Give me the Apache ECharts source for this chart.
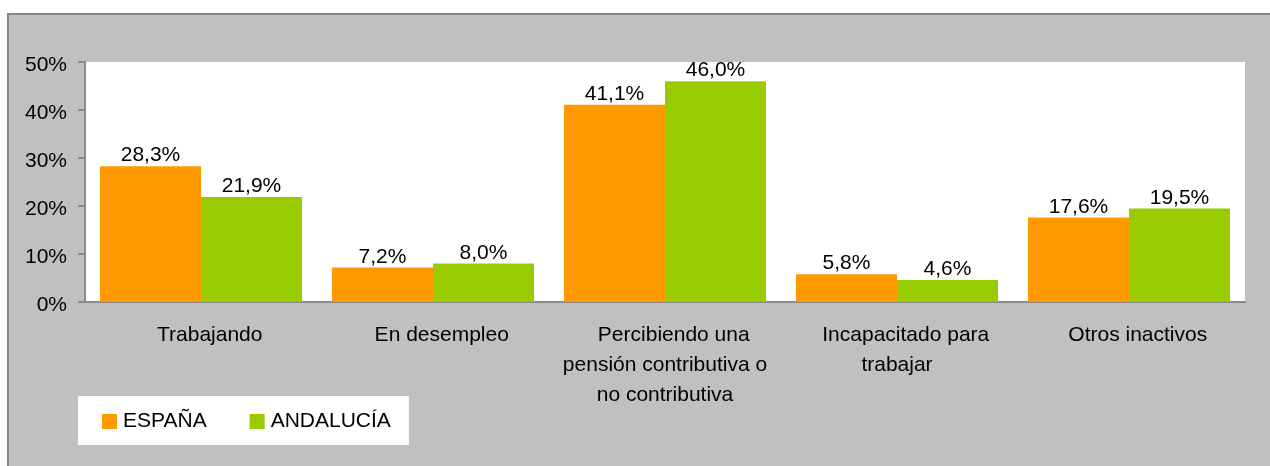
<!DOCTYPE html>
<html>
<head>
<meta charset="utf-8">
<script src="https://cdn.jsdelivr.net/npm/echarts@6/dist/echarts.min.js"></script>
<style>
  body { margin: 0; background: #fff; }
  #wrap { position: relative; width: 1270px; height: 466px; overflow: hidden; }
  /* marco gris del gráfico */
  #frame { position: absolute; left: 7px; top: 13px; width: 1300px; height: 500px;
           background: #c0c0c0; border-left: 2px solid #858585; border-top: 2px solid #858585; }
  #main { position: absolute; left: 0; top: 0; width: 1270px; height: 466px; }
</style>
</head>
<body>
<div id="wrap">
  <div id="frame"></div>
  <div id="main"></div>
</div>
<script>
// categorías y valores (%)
var categorias = ['Trabajando', 'En desempleo', 'Percibiendo una\npensión contributiva o\nno contributiva',
                  'Incapacitado para\ntrabajar', 'Otros inactivos'];
var espana = [28.3, 7.2, 41.1, 5.8, 17.6];
var andalucia = [21.9, 8.0, 46.0, 4.6, 19.5];

var fuente = 'Liberation Sans, Arial, sans-serif';

function etiqueta(p) {
  return p.value.toFixed(1).replace('.', ',') + '%';
}

// en el original la primera línea de cada rótulo queda algo desplazada a la derecha
function rotulo(v) {
  var lineas = v.split('\n');
  lineas[0] = '\u00a0\u00a0\u00a0' + lineas[0];
  return lineas.join('\n');
}

var myChart = echarts.init(document.getElementById('main'));

var option = {
  backgroundColor: 'transparent',
  animation: false,
  textStyle: { fontFamily: fuente },
  grid: {
    left: 85, top: 62, right: 25, bottom: 164,
    show: true, backgroundColor: '#fff', borderWidth: 0
  },
  legend: {
    left: 78, top: 396,
    padding: [15, 18, 13, 24],
    backgroundColor: '#fff',
    itemWidth: 15, itemHeight: 15, itemGap: 43,
    icon: 'rect',
    textStyle: { fontSize: 21, color: '#000', fontFamily: fuente, padding: [0, 0, 0, 1] },
    data: ['ESPAÑA', 'ANDALUCÍA']
  },
  xAxis: {
    type: 'category',
    data: categorias,
    axisLine: { lineStyle: { color: '#8a8a8a', width: 2 } },
    axisTick: { length: 6, lineStyle: { color: '#8a8a8a', width: 2 } },
    axisLabel: { color: '#000', fontSize: 21, lineHeight: 30, margin: 18, interval: 0,
                 fontFamily: fuente, formatter: rotulo }
  },
  yAxis: {
    type: 'value',
    min: 0, max: 50, interval: 10,
    splitLine: { show: false },
    axisLine: { show: true, lineStyle: { color: '#8a8a8a', width: 2 } },
    axisTick: { show: true, length: 7, lineStyle: { color: '#8a8a8a', width: 2 } },
    axisLabel: {
      color: '#000', fontSize: 21, margin: 18, fontFamily: fuente,
      formatter: '{p|{value}%}',
      rich: { p: { fontSize: 21, color: '#000', fontFamily: fuente, padding: [6, 0, 0, 0] } }
    }
  },
  series: [{
    name: 'ESPAÑA',
    type: 'bar',
    data: espana,
    barWidth: 101,
    barGap: '0%',
    itemStyle: { color: '#ff9900' },
    label: { show: true, position: 'top', distance: 0, color: '#000', fontSize: 21, formatter: etiqueta }
  }, {
    name: 'ANDALUCÍA',
    type: 'bar',
    data: andalucia,
    barWidth: 101,
    barGap: '0%',
    itemStyle: { color: '#99cc00' },
    label: { show: true, position: 'top', distance: 0, color: '#000', fontSize: 21, formatter: etiqueta }
  }]
};

myChart.setOption(option);
</script>
</body>
</html>
